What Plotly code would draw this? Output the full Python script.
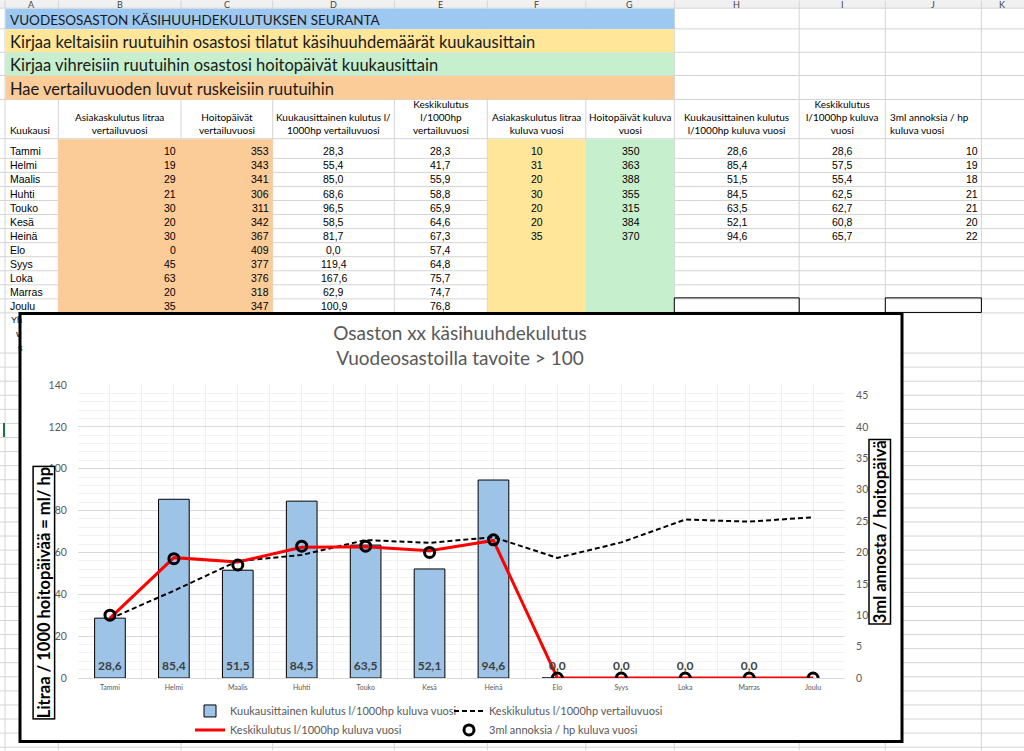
import plotly.graph_objects as go

W, H = 1024, 751
PL, PR, PT, PB = 78, 845, 385, 678.5

# ---------------- data ----------------
kuukaudet = ["Tammi", "Helmi", "Maalis", "Huhti", "Touko", "Kesä", "Heinä",
             "Elo", "Syys", "Loka", "Marras", "Joulu"]
asiakas_vert = [10, 19, 29, 21, 30, 20, 30, 0, 45, 63, 20, 35]
hoito_vert = [353, 343, 341, 306, 311, 342, 367, 409, 377, 376, 318, 347]
kuuk_vert = [28.3, 55.4, 85.0, 68.6, 96.5, 58.5, 81.7, 0.0, 119.4, 167.6, 62.9, 100.9]
kesk_vert = [28.3, 41.7, 55.9, 58.8, 65.9, 64.6, 67.3, 57.4, 64.8, 75.7, 74.7, 76.8]
asiakas_kul = [10, 31, 20, 30, 20, 20, 35]
hoito_kul = [350, 363, 388, 355, 315, 384, 370]
kuuk_kul_taulu = [28.6, 85.4, 51.5, 84.5, 63.5, 52.1, 94.6]
kesk_kul_taulu = [28.6, 57.5, 55.4, 62.5, 62.7, 60.8, 65.7]
annos_kul_taulu = [10, 19, 18, 21, 21, 20, 22]

# series as plotted in the chart
kuuk_kul = [28.6, 85.4, 51.5, 84.5, 63.5, 52.1, 94.6, 0, 0, 0, 0, None]
kesk_kul = [28.6, 57.5, 55.4, 62.5, 62.7, 60.8, 65.7, 0, 0, 0, 0, 0]
annos_kul = [10, 19, 18, 21, 21, 20, 22, 0, 0, 0, 0, 0]

otsikko = "Osaston xx käsihuuhdekulutus<br>Vuodeosastoilla tavoite > 100"
nimi_palkit = "Kuukausittainen kulutus l/1000hp kuluva vuosi"
nimi_vert = "Keskikulutus l/1000hp vertailuvuosi"
nimi_kul = "Keskikulutus l/1000hp kuluva vuosi"
nimi_annos = "3ml annoksia / hp kuluva vuosi"
y1_otsikko = "Litraa / 1000 hoitopäivää = ml/ hp"
y2_otsikko = "3ml annosta / hoitopäivä"

banneri = [
    ("VUODESOSASTON KÄSIHUUHDEKULUTUKSEN SEURANTA", "#9CC8F2"),
    ("Kirjaa keltaisiin ruutuihin osastosi tilatut käsihuuhdemäärät kuukausittain", "#FFE699"),
    ("Kirjaa vihreisiin ruutuihin osastosi hoitopäivät kuukausittain", "#C6EFCE"),
    ("Hae vertailuvuoden luvut ruskeisiin ruutuihin", "#FBCB98"),
]
otsakkeet = ["Kuukausi", "Asiakaskulutus litraa<br>vertailuvuosi", "Hoitopäivät<br>vertailuvuosi",
             "Kuukausittainen kulutus l/<br>1000hp vertailuvuosi", "Keskikulutus<br>l/1000hp<br>vertailuvuosi",
             "Asiakaskulutus litraa<br>kuluva vuosi", "Hoitopäivät kuluva<br>vuosi",
             "Kuukausittainen kulutus<br>l/1000hp kuluva vuosi", "Keskikulutus<br>l/1000hp kuluva<br>vuosi",
             "3ml annoksia / hp<br>kuluva vuosi"]
sarakekirjaimet = ["A", "B", "C", "D", "E", "F", "G", "H", "I", "J", "K"]


def fmt1(v):
    return f"{v:.1f}".replace(".", ",")


# --------------- pixel helpers (layout positions) ---------------
def X(px):
    return (px - PL) / (PR - PL)


def Y(py):
    return (PB - py) / (PB - PT)


col_edges = [5, 58.3, 181, 272.7, 394.3, 487.3, 585.8, 674.3, 799.2, 885.3, 981.4, 1060]
row_lines = [7.5, 28.3, 51.7, 75, 99, 138.3, 158]
for k in range(1, 12):
    row_lines.append(158 + 14.07 * k)
row_lines.append(353)
y = 353
while y < H:
    y += 14.1
    row_lines.append(y)

shapes = []
GRID = "#D4D4D4"


def hline(py, x0=0, x1=W, color=GRID, w=1):
    shapes.append(dict(type="line", xref="paper", yref="paper", x0=X(x0), x1=X(x1),
                       y0=Y(py), y1=Y(py), line=dict(color=color, width=w), layer="below"))


def vline(px, y0=0, y1=H, color=GRID, w=1):
    shapes.append(dict(type="line", xref="paper", yref="paper", x0=X(px), x1=X(px),
                       y0=Y(y0), y1=Y(y1), line=dict(color=color, width=w), layer="below"))


def rect(x0, y0, x1, y1, fill="rgba(0,0,0,0)", line="rgba(0,0,0,0)", w=0):
    shapes.append(dict(type="rect", xref="paper", yref="paper", x0=X(x0), x1=X(x1),
                       y0=Y(y1), y1=Y(y0), fillcolor=fill, line=dict(color=line, width=w),
                       layer="below"))


# column header strip
rect(0, -5, W, 7.5, fill="#F0F0F0")
for py in row_lines:
    hline(py)
for px in col_edges:
    vline(px, 0, H)

# banners
banner_rows = [(7.5, 28.3), (28.3, 51.7), (51.7, 75), (75, 99)]
for (txt_, col), (r0, r1) in zip(banneri, banner_rows):
    rect(5.5, r0 + 0.5, 674.3, r1, fill=col)

# coloured input cells
rect(58.3, 138.8, 272.7, 312.7, fill="#FBCB98")
rect(487.8, 138.8, 585.8, 312.7, fill="#FFE699")
rect(585.8, 138.8, 674.3, 312.7, fill="#C6EFCE")
# bordered cells
rect(674.3, 297.7, 799.2, 312.3, line="black", w=1)
rect(885.3, 297.7, 981.4, 312.3, line="black", w=1)
# selection marker
shapes.append(dict(type="line", xref="paper", yref="paper", x0=X(4), x1=X(4), y0=Y(423), y1=Y(437),
                   line=dict(color="#217346", width=2), layer="below"))
# chart box
rect(20, 313.5, 902, 742, fill="white", line="black", w=3)

annotations = []


def txt(px, py, s, size, color="black", family="Liberation Sans", xanchor="left",
        yanchor="middle", align="left", angle=0, **kw):
    annotations.append(dict(x=X(px), y=Y(py), xref="paper", yref="paper", text=s, showarrow=False,
                            xanchor=xanchor, yanchor=yanchor, align=align, textangle=angle,
                            font=dict(family=family, size=size, color=color), **kw))


# column letters
letter_x = [31.7, 119.6, 226.8, 333.5, 440.8, 536.5, 629.5, 736.8, 842.2, 933, 1002]
for lx, lt in zip(letter_x, sarakekirjaimet):
    txt(lx, 3.5, lt, 9, color="#444444", family="Lato", xanchor="center", yanchor="middle")

# banner texts
banner_y = [19, 41.5, 64.5, 88]
banner_size = [13.5, 16.5, 16.5, 16.5]
for (t, _), by, bs in zip(banneri, banner_y, banner_size):
    txt(8, by, t, bs, color="#1a1a1a", family="Lato")

# header row
hdr_x = [8, 119.6, 226.8, 333.5, 440.8, 536.5, 629.5, 736.8, 842.2, 888.5]
for i, (hx, ht) in enumerate(zip(hdr_x, otsakkeet)):
    if i in (0, 9):
        txt(hx, 138, ht, 10, family="Lato", xanchor="left", yanchor="bottom", align="left")
    else:
        txt(hx, 138, ht, 10, family="Lato", xanchor="center", yanchor="bottom", align="center")

# data rows
for i, m in enumerate(kuukaudet):
    bottom = 158 + 14.07 * i
    cy = bottom - 7
    fs = 10.5
    txt(8, cy, m, fs)
    txt(178, cy, str(asiakas_vert[i]), fs, xanchor="right")
    txt(271, cy, str(hoito_vert[i]), fs, xanchor="right")
    txt(333.5, cy, fmt1(kuuk_vert[i]), fs, xanchor="center")
    txt(440.8, cy, fmt1(kesk_vert[i]), fs, xanchor="center")
    if i < len(asiakas_kul):
        txt(536.5, cy, str(asiakas_kul[i]), fs, xanchor="center")
        txt(630.5, cy, str(hoito_kul[i]), fs, xanchor="center")
        txt(737.5, cy, fmt1(kuuk_kul_taulu[i]), fs, xanchor="center")
        txt(842.6, cy, fmt1(kesk_kul_taulu[i]), fs, xanchor="center")
        txt(979.5, cy, str(annos_kul_taulu[i]), fs, xanchor="right")

# partially hidden text under the chart
txt(9, 320, "Yh", 9)
txt(14, 334, "v", 9)
txt(16, 348, "s", 9)

# axis titles (boxed)
txt(43.5, 593.5, "<b>" + y1_otsikko + "</b>", 16.5, family="Lato", xanchor="center", angle=-90,
    bordercolor="black", borderwidth=1.5, borderpad=0, bgcolor="white")
txt(880, 532, "<b>" + y2_otsikko + "</b>", 16.5, family="Lato", xanchor="center", angle=-90,
    bordercolor="black", borderwidth=1.5, borderpad=0, bgcolor="white")

# ---------------- chart ----------------
xs = list(range(len(kuukaudet)))
fig = go.Figure()
fig.add_trace(go.Bar(x=xs, y=kuuk_kul, width=0.48, name=nimi_palkit,
                     marker=dict(color="#9DC3E6", line=dict(color="black", width=1))))
fig.add_trace(go.Scatter(x=xs, y=kesk_vert, mode="lines", name=nimi_vert,
                         line=dict(color="black", width=2, dash="5px,3px")))
fig.add_trace(go.Scatter(x=xs, y=kesk_kul, mode="lines", name=nimi_kul,
                         line=dict(color="#FF0000", width=3)))
fig.add_trace(go.Scatter(x=xs, y=[0] * len(xs), mode="markers+text", showlegend=False,
                         marker=dict(size=6, opacity=0),
                         text=["<b>" + fmt1(v) + "</b>" if v is not None else "" for v in kuuk_kul],
                         textposition="top center",
                         textfont=dict(family="Lato", size=12, color="#404040"), hoverinfo="skip"))
fig.add_trace(go.Scatter(x=xs, y=annos_kul, mode="markers", name=nimi_annos, yaxis="y2",
                         marker=dict(symbol="circle-open", size=10, color="black",
                                     line=dict(color="black", width=3))))

tickfont = dict(family="Lato", size=10.5, color="#595959")
fig.update_layout(
    width=W, height=H,
    margin=dict(l=PL, r=W - PR, t=PT, b=H - PB, autoexpand=False),
    paper_bgcolor="white", plot_bgcolor="rgba(0,0,0,0)",
    showlegend=True, hovermode=False, bargap=0.52,
    separators=", ",
    title=dict(text=otsikko, x=460 / W, xanchor="center", xref="container",
               y=1 - 340 / H, yanchor="middle", yref="container",
               font=dict(family="Lato", size=19, color="#595959")),
    xaxis=dict(range=[-0.5, 11.5], tickmode="array", tickvals=xs, ticktext=kuukaudet,
               tickfont=dict(family="Lato", size=7, color="#595959"),
               showgrid=True, gridcolor="#EFEFEF", gridwidth=1,
               minor=dict(dtick=0.5, tick0=-0.5, showgrid=True, gridcolor="#EFEFEF"),
               showline=True, linecolor="#D9D9D9", linewidth=1, zeroline=False,
               ticks="outside", ticklen=3, tickcolor="rgba(0,0,0,0)", fixedrange=True),
    yaxis=dict(range=[0, 140], dtick=20, tickfont=tickfont, showgrid=True, gridcolor="#D9D9D9",
               minor=dict(dtick=4, showgrid=True, gridcolor="#F2F2F2"),
               zeroline=False, showline=False, ticks="outside", ticklen=8,
               tickcolor="rgba(0,0,0,0)", fixedrange=True),
    yaxis2=dict(range=[0, 140 / 3], dtick=5, overlaying="y", side="right", showgrid=False,
                tickfont=tickfont, zeroline=False, showline=False, ticks="outside", ticklen=8,
                tickcolor="rgba(0,0,0,0)", fixedrange=True),
    legend=dict(orientation="h", x=X(190), xanchor="left", y=Y(697), yanchor="top",
                entrywidth=214, entrywidthmode="pixels", traceorder="normal",
                font=dict(family="Lato", size=11, color="#595959"), bgcolor="rgba(0,0,0,0)"),
    shapes=shapes,
    annotations=annotations,
)

fig.write_html("out.html", config={"displayModeBar": False},
               post_script="document.body.style.margin='0px';document.body.style.overflow='hidden';")
